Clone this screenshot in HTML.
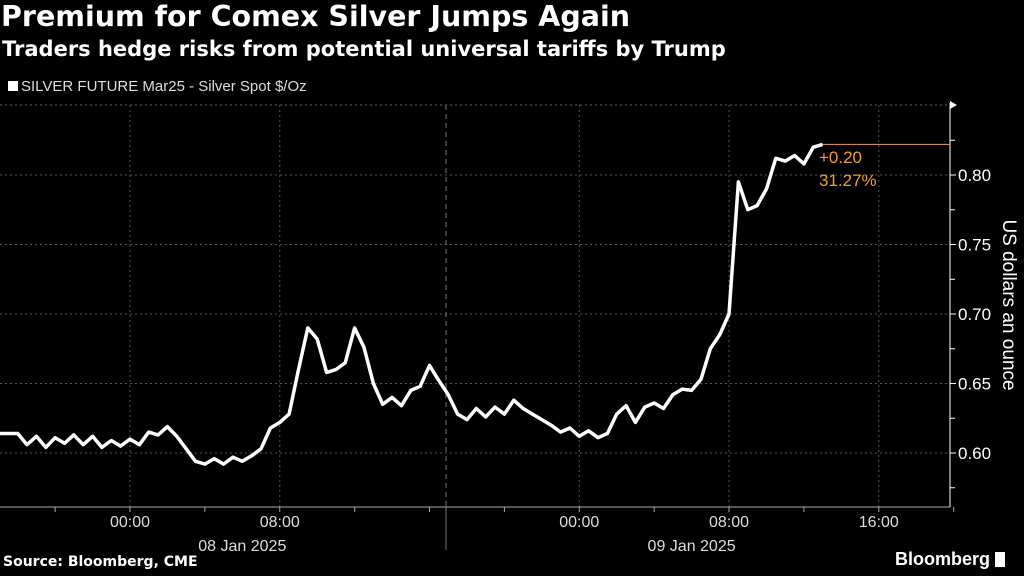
<!DOCTYPE html>
<html><head><meta charset="utf-8">
<style>
html,body{margin:0;padding:0;background:#000;}
body{width:1024px;height:576px;overflow:hidden;position:relative;font-family:"Liberation Sans",sans-serif;color:#fff;}
.t{position:absolute;white-space:nowrap;}
</style></head>
<body>
<div class="t" style="left:1px;top:0px;font:bold 28.5px 'DejaVu Sans',sans-serif;">Premium for Comex Silver Jumps Again</div>
<div class="t" style="left:2px;top:37px;font:bold 21px 'DejaVu Sans',sans-serif;">Traders hedge risks from potential universal tariffs by Trump</div>
<div class="t" style="left:8px;top:78px;font-size:15px;color:#ddd;"><span style="display:inline-block;width:10px;height:10px;background:#fff;margin-right:3px;"></span>SILVER FUTURE Mar25 - Silver Spot $/Oz</div>
<svg id="chart" width="1024" height="576" style="position:absolute;left:0;top:0;">
</svg>
<div class="t" style="left:3px;top:554px;font:bold 14px 'DejaVu Sans',sans-serif;">Source: Bloomberg, CME</div>
<div class="t" style="left:895px;top:549px;font:bold 18px 'Liberation Sans',sans-serif;">Bloomberg <span style="display:inline-block;width:10px;height:15px;background:#fff;vertical-align:-2px;"></span></div>
<script>
const times = [];
const values = [0.614,0.614,0.614,0.606,0.612,0.604,0.611,0.607,0.613,0.606,0.612,0.604,0.609,0.605,0.610,0.606,0.615,0.613,0.619,0.612,0.603,0.594,0.592,0.596,0.592,0.597,0.594,0.598,0.603,0.618,0.622,0.628,0.660,0.690,0.682,0.658,0.660,0.665,0.690,0.676,0.650,0.635,0.640,0.634,0.645,0.648,0.663,0.652,0.642,0.628,0.624,0.632,0.626,0.633,0.628,0.638,0.632,0.628,0.624,0.620,0.615,0.618,0.612,0.616,0.611,0.614,0.628,0.634,0.622,0.633,0.636,0.632,0.642,0.646,0.645,0.653,0.675,0.685,0.700,0.795,0.775,0.778,0.790,0.812,0.810,0.814,0.808,0.820,0.822];
for (let i=0;i<values.length;i++) times.push(-7+0.5*i);
const yTicks = [0.60,0.65,0.70,0.75,0.80];
const xTickHours = [0,8,24,32,40];
const xTickLabels = ["00:00","08:00","00:00","08:00","16:00"];
const dateLabels = ["08 Jan 2025","09 Jan 2025"];
const dateHours = [6,30];
const changeLabels = ["+0.20","31.27%"];

const NS="http://www.w3.org/2000/svg";
const svg=document.getElementById('chart');
const X=h=>130+h*18.72;
const Y=v=>453-(v-0.60)*1390;
function mk(tag,attrs){const e=document.createElementNS(NS,tag);for(const k in attrs)e.setAttribute(k,attrs[k]);svg.appendChild(e);return e;}
let e=mk('line',{x1:0,x2:950,y1:105,y2:105,stroke:'#666','stroke-dasharray':'2,3'});


yTicks.forEach(v=>{
  const g=mk('line',{x1:0,x2:950,y1:Y(v),y2:Y(v),stroke:'#555','stroke-dasharray':'2,3'});
  
  
  const t=mk('line',{x1:950,x2:956,y1:Y(v),y2:Y(v),stroke:'#fff'});
  
  
  const l=mk('text',{x:958,y:Y(v)+6,fill:'#fff','font-size':17,'font-family':'Liberation Sans, sans-serif'});
  l.textContent=v.toFixed(2);
  
  
});
[0.575,0.625,0.675,0.725,0.775,0.825].forEach(v=>{
  const t=mk('line',{x1:950,x2:955,y1:Y(v),y2:Y(v),stroke:'#fff'});
  
  
});
for(let h=-4;h<=44;h+=4){
  const t=mk('line',{x1:X(h),x2:X(h),y1:507,y2:512,stroke:'#aaa'});
  
  
}
xTickHours.forEach((h,i)=>{
  const g=mk('line',{x1:X(h),x2:X(h),y1:105,y2:507,stroke:'#555','stroke-dasharray':'2,3'});
  
  
  const l=mk('text',{x:X(h),y:527,fill:'#ddd','font-size':16,'text-anchor':'middle','font-family':'Liberation Sans, sans-serif'});
  l.textContent=xTickLabels[i];
  
  
});
dateLabels.forEach((d,i)=>{
  const l=mk('text',{x:X(dateHours[i]),y:551,fill:'#ddd','font-size':16,'text-anchor':'middle','font-family':'Liberation Sans, sans-serif'});
  l.textContent=d;
  
  
});
e=mk('line',{x1:446,x2:446,y1:105,y2:507,stroke:'#777','stroke-dasharray':'5,4'});


e=mk('line',{x1:446,x2:446,y1:507,y2:550,stroke:'#777'});


e=mk('line',{x1:0,x2:950,y1:507,y2:507,stroke:'#aaa'});


e=mk('line',{x1:950,x2:950,y1:103,y2:507,stroke:'#fff'});


e=mk('polygon',{points:'950,101 950,109 957,105',fill:'#fff'});


const last=values[values.length-1];
e=mk('line',{x1:X(times[times.length-1]),x2:950,y1:Y(last),y2:Y(last),stroke:'#e8a060','stroke-width':1});


changeLabels.forEach((s,i)=>{
  const l=mk('text',{x:819,y:163+i*23,fill:'#f0a030','font-size':17,'font-family':'Liberation Sans, sans-serif'});
  l.textContent=s;
  
  
});
let d='';
times.forEach((t,i)=>{d+=(i?'L':'M')+X(t).toFixed(1)+','+Y(values[i]).toFixed(1);});
e=mk('path',{d:d,fill:'none',stroke:'#fff','stroke-width':3.5,'stroke-linejoin':'round'});


e=mk('text',{x:1003,y:305,fill:'#fff','font-size':19,'text-anchor':'middle','font-family':'Liberation Sans, sans-serif',transform:'rotate(90 1003 305)'});
e.textContent='US dollars an ounce';


</script>
</body></html>
